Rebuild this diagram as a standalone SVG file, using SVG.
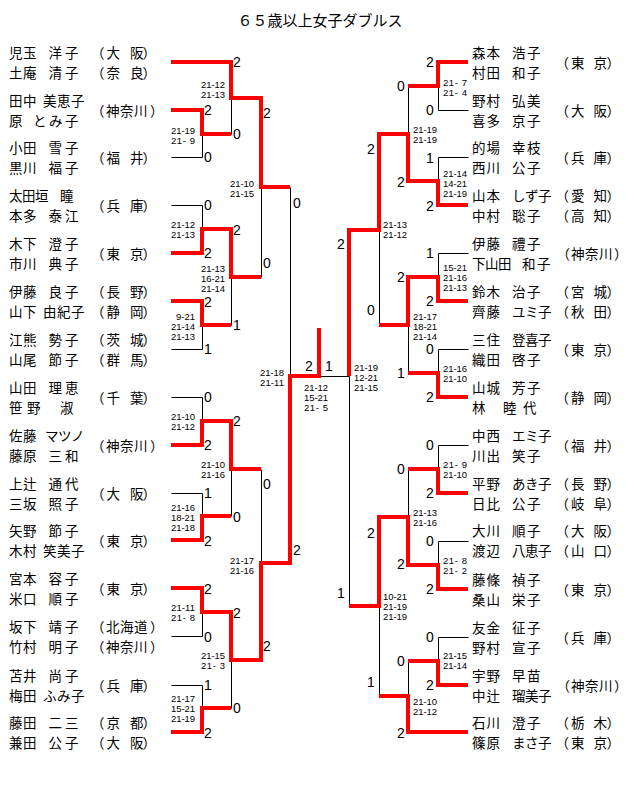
<svg xmlns="http://www.w3.org/2000/svg" width="640" height="801" viewBox="0 0 640 801">
<style>
text{fill:#000;dominant-baseline:central}
.nm{font-family:"Noto Sans CJK JP","Noto Sans CJK SC",sans-serif;font-size:13.5px}
.tt{font-family:"Noto Sans CJK JP",sans-serif;font-size:15px;text-anchor:middle}
.sc{font-family:"Liberation Sans",Arial,sans-serif;font-size:14px;text-anchor:middle}
.ms{font-family:"Liberation Sans",Arial,sans-serif;font-size:9.5px}
.k{stroke:#000;stroke-width:1;fill:none}
.r{stroke:#f00;stroke-width:4;fill:none;stroke-linejoin:miter;stroke-linecap:butt}
</style>
<rect width="640" height="801" fill="#fff"/>
<text id="title" class="tt" x="320" y="19">６５歳以上女子ダブルス</text>

<g id="connectors">
<path class="k" transform="translate(0.5,0.5)" d="M171,157H202M171,205H202M171,349H202M171,397H202M171,493H202M171,636H202M171,685H202
M202,134V157M202,205V229M202,325V349M202,397V421M202,493V516M202,612V636M202,685V708
M231,98V134M231,277V325M231,469V516M231,660V708
M261,187V277M261,469V563
M290,187V376
M319,376H349
M349,376V606
M379,230V325M379,606V696
M408,86V134M408,325V373M408,469V517M408,661V696
M438,86V110M438,157V181M438,253V277M438,349V373M438,445V469M438,541V565M438,637V661
M438,110H468M438,157H468M438,253H468M438,349H468M438,445H468M438,541H468M438,637H468"/>
<path class="r" d="M171,62H231V98H261V187H290"/>
<path class="r" d="M171,110H202V134H231"/>
<path class="r" d="M171,253H202V229H231V277H261"/>
<path class="r" d="M171,301H202V325H231"/>
<path class="r" d="M171,445H202V421H231V469H261"/>
<path class="r" d="M171,540H202V516H231"/>
<path class="r" d="M171,588H202V612H231V660H261V563H290V376H319V328"/>
<path class="r" d="M171,732H202V708H231"/>
<path class="r" d="M468,62H438V86H408"/>
<path class="r" d="M468,205H438V181H408V134H379V230H349V376"/>
<path class="r" d="M468,301H438V277H408V325H379"/>
<path class="r" d="M468,397H438V373H408"/>
<path class="r" d="M468,493H438V469H408"/>
<path class="r" d="M468,589H438V565H408V517H379V606H349"/>
<path class="r" d="M468,685H438V661H408"/>
<path class="r" d="M468,732H408V696H379"/>
</g>

<g id="game-scores">
<text class="sc" x="237" y="62">2</text><text class="sc" x="208" y="110">2</text><text class="sc" x="237" y="134">0</text><text class="sc" x="208" y="157">0</text><text class="sc" x="267" y="113">2</text>
<text class="sc" x="208" y="205">0</text><text class="sc" x="237" y="230">2</text><text class="sc" x="208" y="253">2</text><text class="sc" x="267" y="263">0</text>
<text class="sc" x="208" y="302">2</text><text class="sc" x="237" y="325">1</text><text class="sc" x="208" y="349">1</text>
<text class="sc" x="297" y="203">0</text>
<text class="sc" x="208" y="397">0</text><text class="sc" x="237" y="421">2</text><text class="sc" x="208" y="445">2</text><text class="sc" x="267" y="484">0</text>
<text class="sc" x="208" y="493">1</text><text class="sc" x="237" y="517">0</text><text class="sc" x="208" y="541">2</text>
<text class="sc" x="297" y="550">2</text>
<text class="sc" x="208" y="589">2</text><text class="sc" x="237" y="613">2</text><text class="sc" x="208" y="637">0</text><text class="sc" x="267" y="646">2</text>
<text class="sc" x="208" y="685">1</text><text class="sc" x="237" y="708">0</text><text class="sc" x="208" y="733">2</text>
<text class="sc" x="309" y="366">2</text><text class="sc" x="329" y="366">1</text>
<text class="sc" x="430" y="62">2</text><text class="sc" x="401" y="86">0</text><text class="sc" x="430" y="110">0</text><text class="sc" x="371" y="149">2</text>
<text class="sc" x="430" y="158">1</text><text class="sc" x="401" y="182">2</text><text class="sc" x="430" y="206">2</text>
<text class="sc" x="341" y="244">2</text>
<text class="sc" x="430" y="253">1</text><text class="sc" x="401" y="277">2</text><text class="sc" x="430" y="301">2</text><text class="sc" x="371" y="310">0</text>
<text class="sc" x="430" y="349">0</text><text class="sc" x="401" y="373">1</text><text class="sc" x="430" y="397">2</text>
<text class="sc" x="430" y="445">0</text><text class="sc" x="401" y="469">0</text><text class="sc" x="430" y="493">2</text><text class="sc" x="371" y="533">2</text>
<text class="sc" x="430" y="541">0</text><text class="sc" x="401" y="564">2</text><text class="sc" x="430" y="589">2</text>
<text class="sc" x="341" y="593">1</text>
<text class="sc" x="430" y="637">0</text><text class="sc" x="401" y="661">0</text><text class="sc" x="430" y="685">2</text><text class="sc" x="371" y="682">1</text>
<text class="sc" x="401" y="733">2</text>
</g>

<g id="match-scores">
<text class="ms" x="201" y="84" textLength="24">21-12</text><text class="ms" x="201" y="94" textLength="24">21-13</text>
<text class="ms" x="171" y="130" textLength="24">21-19</text><text class="ms" x="171" y="140" textLength="24">21- 9</text>
<text class="ms" x="230" y="183" textLength="24">21-10</text><text class="ms" x="230" y="193" textLength="24">21-15</text>
<text class="ms" x="171" y="224" textLength="24">21-12</text><text class="ms" x="171" y="234" textLength="24">21-13</text>
<text class="ms" x="201" y="268" textLength="24">21-13</text><text class="ms" x="201" y="278" textLength="24">16-21</text><text class="ms" x="201" y="288" textLength="24">21-14</text>
<text class="ms" x="176" y="316" textLength="19">9-21</text><text class="ms" x="171" y="326" textLength="24">21-14</text><text class="ms" x="171" y="336" textLength="24">21-13</text>
<text class="ms" x="260" y="372" textLength="24">21-18</text><text class="ms" x="260" y="382" textLength="24">21-11</text>
<text class="ms" x="171" y="416" textLength="24">21-10</text><text class="ms" x="171" y="426" textLength="24">21-12</text>
<text class="ms" x="201" y="464" textLength="24">21-10</text><text class="ms" x="201" y="474" textLength="24">21-16</text>
<text class="ms" x="171" y="507" textLength="24">21-16</text><text class="ms" x="171" y="517" textLength="24">18-21</text><text class="ms" x="171" y="527" textLength="24">21-18</text>
<text class="ms" x="230" y="560" textLength="24">21-17</text><text class="ms" x="230" y="570" textLength="24">21-16</text>
<text class="ms" x="171" y="607" textLength="24">21-11</text><text class="ms" x="171" y="617" textLength="24">21- 8</text>
<text class="ms" x="201" y="655" textLength="24">21-15</text><text class="ms" x="201" y="665" textLength="24">21- 3</text>
<text class="ms" x="171" y="698" textLength="24">21-17</text><text class="ms" x="171" y="708" textLength="24">15-21</text><text class="ms" x="171" y="718" textLength="24">21-19</text>
<text class="ms" x="304" y="387" textLength="24">21-12</text><text class="ms" x="304" y="397" textLength="24">15-21</text><text class="ms" x="304" y="407" textLength="24">21- 5</text>
<text class="ms" x="443" y="82" textLength="24">21- 7</text><text class="ms" x="443" y="92" textLength="24">21- 4</text>
<text class="ms" x="413" y="129" textLength="24">21-19</text><text class="ms" x="413" y="139" textLength="24">21-19</text>
<text class="ms" x="443" y="173" textLength="24">21-14</text><text class="ms" x="443" y="183" textLength="24">14-21</text><text class="ms" x="443" y="193" textLength="24">21-19</text>
<text class="ms" x="383" y="224" textLength="24">21-13</text><text class="ms" x="383" y="234" textLength="24">21-12</text>
<text class="ms" x="443" y="267" textLength="24">15-21</text><text class="ms" x="443" y="277" textLength="24">21-16</text><text class="ms" x="443" y="287" textLength="24">21-13</text>
<text class="ms" x="413" y="316" textLength="24">21-17</text><text class="ms" x="413" y="326" textLength="24">18-21</text><text class="ms" x="413" y="336" textLength="24">21-14</text>
<text class="ms" x="354" y="367" textLength="24">21-19</text><text class="ms" x="354" y="377" textLength="24">12-21</text><text class="ms" x="354" y="387" textLength="24">21-15</text>
<text class="ms" x="443" y="368" textLength="24">21-16</text><text class="ms" x="443" y="378" textLength="24">21-10</text>
<text class="ms" x="443" y="464" textLength="24">21- 9</text><text class="ms" x="443" y="474" textLength="24">21-10</text>
<text class="ms" x="413" y="512" textLength="24">21-13</text><text class="ms" x="413" y="522" textLength="24">21-16</text>
<text class="ms" x="443" y="560" textLength="24">21- 8</text><text class="ms" x="443" y="570" textLength="24">21- 2</text>
<text class="ms" x="383" y="596" textLength="24">10-21</text><text class="ms" x="383" y="606" textLength="24">21-19</text><text class="ms" x="383" y="616" textLength="24">21-19</text>
<text class="ms" x="443" y="655" textLength="24">21-15</text><text class="ms" x="443" y="665" textLength="24">21-14</text>
<text class="ms" x="413" y="701" textLength="24">21-10</text><text class="ms" x="413" y="711" textLength="24">21-12</text>
</g>

<g id="L01"><text class="nm"><tspan x="9 23 37 48.5 65" y="52">児玉　洋子</tspan><tspan x="9 23 37 48.5 65" y="72">土庵　清子</tspan></text><text class="nm"><tspan x="91 106.5 120 130 142.5" y="52">（大　阪）</tspan><tspan x="91 106.5 120 130 142.5" y="72">（奈　良）</tspan></text></g>
<g id="L02"><text class="nm"><tspan x="9 23 37 43 57 71" y="100">田中　美恵子</tspan><tspan x="9 23 33 49 65" y="120">原　とみ子</tspan></text><text class="nm" x="91 106 120 134 150" y="110">（神奈川）</text></g>
<g id="L03"><text class="nm"><tspan x="9 23 37 48.5 65" y="147">小田　雪子</tspan><tspan x="9 23 37 48.5 65" y="167">黒川　福子</tspan></text><text class="nm" x="91 106.5 120 130 142.5" y="157">（福　井）</text></g>
<g id="L04"><text class="nm"><tspan x="9 22 35 49 60" y="195">太田垣　瞳</tspan><tspan x="9 23 37 48.5 65" y="215">本多　泰江</tspan></text><text class="nm" x="91 106.5 120 130 142.5" y="205">（兵　庫）</text></g>
<g id="L05"><text class="nm"><tspan x="9 23 37 48.5 65" y="243">木下　澄子</tspan><tspan x="9 23 37 48.5 65" y="263">市川　典子</tspan></text><text class="nm" x="91 106.5 120 130 142.5" y="253">（東　京）</text></g>
<g id="L06"><text class="nm"><tspan x="9 23 37 48.5 65" y="291">伊藤　良子</tspan><tspan x="9 23 37 43 57 71" y="311">山下　由紀子</tspan></text><text class="nm"><tspan x="91 106.5 120 130 142.5" y="291">（長　野）</tspan><tspan x="91 106.5 120 130 142.5" y="311">（静　岡）</tspan></text></g>
<g id="L07"><text class="nm"><tspan x="9 23 37 48.5 65" y="339">江熊　勢子</tspan><tspan x="9 23 37 48.5 65" y="359">山尾　節子</tspan></text><text class="nm"><tspan x="91 106.5 120 130 142.5" y="339">（茨　城）</tspan><tspan x="91 106.5 120 130 142.5" y="359">（群　馬）</tspan></text></g>
<g id="L08"><text class="nm"><tspan x="9 23 37 48.5 65" y="387">山田　理恵</tspan><tspan x="9 22 27 41 60" y="407">笹　野　淑</tspan></text><text class="nm" x="91 106.5 120 130 142.5" y="397">（千　葉）</text></g>
<g id="L09"><text class="nm"><tspan x="9 23 37 45 58 71" y="435">佐藤　マツノ</tspan><tspan x="9 23 37 48.5 65" y="455">藤原　三和</tspan></text><text class="nm" x="91 106 120 134 150" y="445">（神奈川）</text></g>
<g id="L10"><text class="nm"><tspan x="9 23 37 48.5 65" y="483">上辻　通代</tspan><tspan x="9 23 37 48.5 65" y="503">三坂　照子</tspan></text><text class="nm" x="91 106.5 120 130 142.5" y="493">（大　阪）</text></g>
<g id="L11"><text class="nm"><tspan x="9 23 37 48.5 65" y="530">矢野　節子</tspan><tspan x="9 23 37 43 57 71" y="550">木村　笑美子</tspan></text><text class="nm" x="91 106.5 120 130 142.5" y="540">（東　京）</text></g>
<g id="L12"><text class="nm"><tspan x="9 23 37 48.5 65" y="578">宮本　容子</tspan><tspan x="9 23 37 48.5 65" y="598">米口　順子</tspan></text><text class="nm" x="91 106.5 120 130 142.5" y="588">（東　京）</text></g>
<g id="L13"><text class="nm"><tspan x="9 23 37 48.5 65" y="626">坂下　靖子</tspan><tspan x="9 23 37 48.5 65" y="646">竹村　明子</tspan></text><text class="nm"><tspan x="91 106 120 134 150" y="626">（北海道）</tspan><tspan x="91 106 120 134 150" y="646">（神奈川）</tspan></text></g>
<g id="L14"><text class="nm"><tspan x="9 23 37 48.5 65" y="675">苫井　尚子</tspan><tspan x="9 23 37 43 57 71" y="695">梅田　ふみ子</tspan></text><text class="nm" x="91 106.5 120 130 142.5" y="685">（兵　庫）</text></g>
<g id="L15"><text class="nm"><tspan x="9 23 37 48.5 65" y="722">藤田　二三</tspan><tspan x="9 23 37 48.5 65" y="742">兼田　公子</tspan></text><text class="nm"><tspan x="91 106.5 120 130 142.5" y="722">（京　都）</tspan><tspan x="91 106.5 120 130 142.5" y="742">（大　阪）</tspan></text></g>

<g id="R01"><text class="nm"><tspan x="472 486.5 500 512 527" y="52">森本　浩子</tspan><tspan x="472 486.5 500 512 527" y="72">村田　和子</tspan></text><text class="nm" x="555.5 571 584 593.5 606.5" y="62">（東　京）</text></g>
<g id="R02"><text class="nm"><tspan x="472 486.5 500 512 527" y="100">野村　弘美</tspan><tspan x="472 486.5 500 512 527" y="120">喜多　京子</tspan></text><text class="nm" x="555.5 571 584 593.5 606.5" y="110">（大　阪）</text></g>
<g id="R03"><text class="nm"><tspan x="472 486.5 500 512 527" y="147">的場　幸枝</tspan><tspan x="472 486.5 500 512 527" y="167">西川　公子</tspan></text><text class="nm" x="555.5 571 584 593.5 606.5" y="157">（兵　庫）</text></g>
<g id="R04"><text class="nm"><tspan x="472 486.5 500 512 525 538" y="195">山本　しず子</tspan><tspan x="472 486.5 500 512 527" y="215">中村　聡子</tspan></text><text class="nm"><tspan x="555.5 571 584 593.5 606.5" y="195">（愛　知）</tspan><tspan x="555.5 571 584 593.5 606.5" y="215">（高　知）</tspan></text></g>
<g id="R05"><text class="nm"><tspan x="472 486.5 500 512 527" y="243">伊藤　禮子</tspan><tspan x="472 485 498 511 522 537" y="263">下山田　和子</tspan></text><text class="nm" x="556.5 571 585 599 614" y="253">（神奈川）</text></g>
<g id="R06"><text class="nm"><tspan x="472 486.5 500 512 527" y="291">鈴木　治子</tspan><tspan x="472 486.5 500 512 525 538" y="311">齊藤　ユミ子</tspan></text><text class="nm"><tspan x="555.5 571 584 593.5 606.5" y="291">（宮　城）</tspan><tspan x="555.5 571 584 593.5 606.5" y="311">（秋　田）</tspan></text></g>
<g id="R07"><text class="nm"><tspan x="472 486.5 500 512 525 538" y="339">三住　登喜子</tspan><tspan x="472 486.5 500 512 527" y="359">織田　啓子</tspan></text><text class="nm" x="555.5 571 584 593.5 606.5" y="349">（東　京）</text></g>
<g id="R08"><text class="nm"><tspan x="472 486.5 500 512 527" y="387">山城　芳子</tspan><tspan x="472 486 503 517 523" y="407">林　睦　代</tspan></text><text class="nm" x="555.5 571 584 593.5 606.5" y="397">（静　岡）</text></g>
<g id="R09"><text class="nm"><tspan x="472 486.5 500 512 525 538" y="435">中西　エミ子</tspan><tspan x="472 486.5 500 512 527" y="455">川出　笑子</tspan></text><text class="nm" x="555.5 571 584 593.5 606.5" y="445">（福　井）</text></g>
<g id="R10"><text class="nm"><tspan x="472 486.5 500 512 525 538" y="483">平野　あき子</tspan><tspan x="472 486.5 500 512 527" y="503">日比　公子</tspan></text><text class="nm"><tspan x="555.5 571 584 593.5 606.5" y="483">（長　野）</tspan><tspan x="555.5 571 584 593.5 606.5" y="503">（岐　阜）</tspan></text></g>
<g id="R11"><text class="nm"><tspan x="472 486.5 500 512 527" y="530">大川　順子</tspan><tspan x="472 486.5 500 512 525 538" y="550">渡辺　八恵子</tspan></text><text class="nm"><tspan x="555.5 571 584 593.5 606.5" y="530">（大　阪）</tspan><tspan x="555.5 571 584 593.5 606.5" y="550">（山　口）</tspan></text></g>
<g id="R12"><text class="nm"><tspan x="472 486.5 500 512 527" y="579">藤條　禎子</tspan><tspan x="472 486.5 500 512 527" y="599">桑山　栄子</tspan></text><text class="nm" x="555.5 571 584 593.5 606.5" y="589">（東　京）</text></g>
<g id="R13"><text class="nm"><tspan x="472 486.5 500 512 527" y="627">友金　征子</tspan><tspan x="472 486.5 500 512 527" y="647">野村　宣子</tspan></text><text class="nm" x="555.5 571 584 593.5 606.5" y="637">（兵　庫）</text></g>
<g id="R14"><text class="nm"><tspan x="472 486.5 500 512 527" y="675">宇野　早苗</tspan><tspan x="472 486.5 500 512 525 538" y="695">中辻　瑠美子</tspan></text><text class="nm" x="556.5 571 585 599 614" y="685">（神奈川）</text></g>
<g id="R15"><text class="nm"><tspan x="472 486.5 500 512 527" y="722">石川　澄子</tspan><tspan x="472 486.5 500 512 525 538" y="742">篠原　まさ子</tspan></text><text class="nm"><tspan x="555.5 571 584 593.5 606.5" y="722">（栃　木）</tspan><tspan x="555.5 571 584 593.5 606.5" y="742">（東　京）</tspan></text></g>
</svg>
